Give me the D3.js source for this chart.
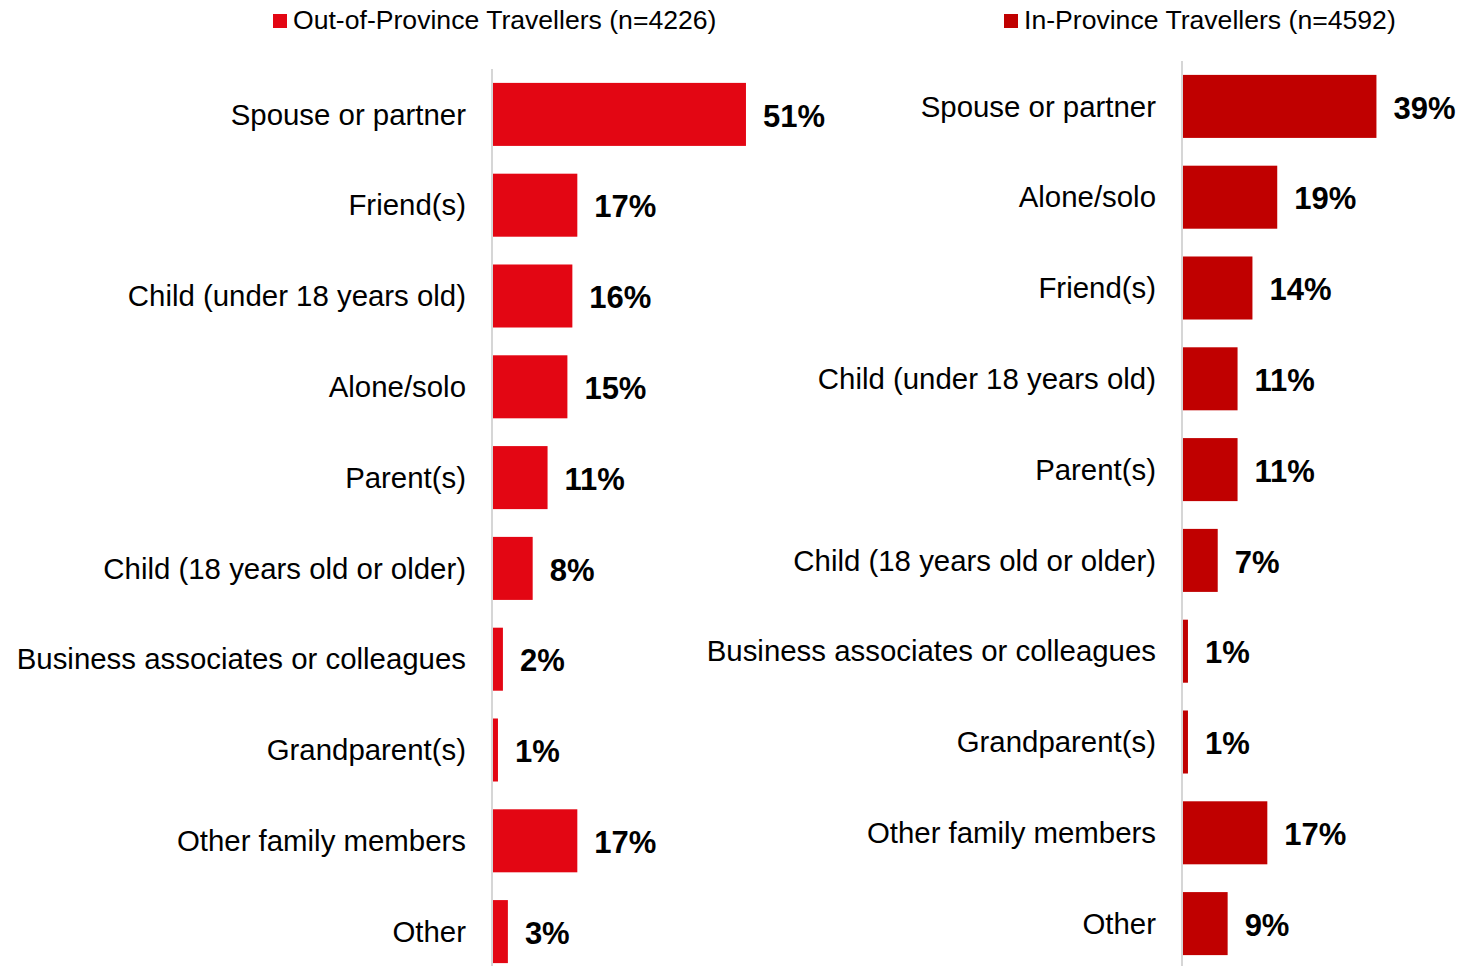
<!DOCTYPE html>
<html>
<head>
<meta charset="utf-8">
<script src="https://cdn.jsdelivr.net/npm/d3@7"></script>
<style>
  html, body { margin: 0; padding: 0; background: #fff; }
  svg { display: block; font-family: "Liberation Sans", Arial, sans-serif; }
</style>
</head>
<body>
<svg id="chart" width="1479" height="966"></svg>
<script>
// Travel companions, two groups of travellers (percent of respondents)
const outCategories = [
  "Spouse or partner", "Friend(s)", "Child (under 18 years old)", "Alone/solo",
  "Parent(s)", "Child (18 years old or older)", "Business associates or colleagues",
  "Grandparent(s)", "Other family members", "Other"
];
const outValues = [51, 17, 16, 15, 11, 8, 2, 1, 17, 3];

const inCategories = [
  "Spouse or partner", "Alone/solo", "Friend(s)", "Child (under 18 years old)",
  "Parent(s)", "Child (18 years old or older)", "Business associates or colleagues",
  "Grandparent(s)", "Other family members", "Other"
];
const inValues = [39, 19, 14, 11, 11, 7, 1, 1, 17, 9];

const seriesNames = ["Out-of-Province Travellers (n=4226)", "In-Province Travellers (n=4592)"];
const seriesColors = ["#E30613", "#C00000"];

const svg = d3.select("#chart");

function drawPanel(cfg) {
  const data = cfg.categories.map((c, i) => ({ cat: c, val: cfg.values[i] }));

  const x = d3.scaleLinear().domain([0, 100]).range([cfg.x0, cfg.x0 + 496]);
  const y = d3.scaleBand()
    .domain(cfg.categories)
    .range([cfg.yTop, cfg.yTop + 908])
    .paddingInner(0.306)
    .paddingOuter(0.153);

  const g = svg.append("g");

  // category axis line
  g.append("line")
    .attr("x1", cfg.x0 - 1).attr("x2", cfg.x0 - 1)
    .attr("y1", y.range()[0]).attr("y2", y.range()[1])
    .attr("stroke", "#d6d6d6").attr("stroke-width", 2);

  g.selectAll("rect.bar").data(data).join("rect")
    .attr("class", "bar")
    .attr("x", x(0))
    .attr("y", d => y(d.cat))
    .attr("width", d => x(d.val) - x(0))
    .attr("height", y.bandwidth())
    .attr("fill", cfg.color);

  g.selectAll("text.cat").data(data).join("text")
    .attr("class", "cat")
    .attr("x", cfg.x0 - 27)
    .attr("y", d => y(d.cat) + y.bandwidth() / 2)
    .attr("dy", "0.35em")
    .attr("text-anchor", "end")
    .attr("font-size", 29.4)
    .attr("fill", "#000")
    .text(d => d.cat);

  g.selectAll("text.val").data(data).join("text")
    .attr("class", "val")
    .attr("x", d => x(d.val) + 17)
    .attr("y", d => y(d.cat) + y.bandwidth() / 2 + 1)
    .attr("dy", "0.36em")
    .attr("font-size", 31)
    .attr("font-weight", "bold")
    .attr("fill", "#000")
    .text(d => d.val + "%");

  // legend entry
  const lg = svg.append("g").attr("transform", `translate(${cfg.legendX},0)`);
  lg.append("rect")
    .attr("x", 0).attr("y", 14).attr("width", 14).attr("height", 14)
    .attr("fill", cfg.color);
  lg.append("text")
    .attr("x", 20).attr("y", 29)
    .attr("font-size", 26.6)
    .attr("fill", "#000")
    .text(cfg.name);
}

drawPanel({
  categories: outCategories, values: outValues, color: seriesColors[0],
  name: seriesNames[0], x0: 493, yTop: 69, legendX: 273
});
drawPanel({
  categories: inCategories, values: inValues, color: seriesColors[1],
  name: seriesNames[1], x0: 1183, yTop: 61, legendX: 1004
});
</script>
</body>
</html>
